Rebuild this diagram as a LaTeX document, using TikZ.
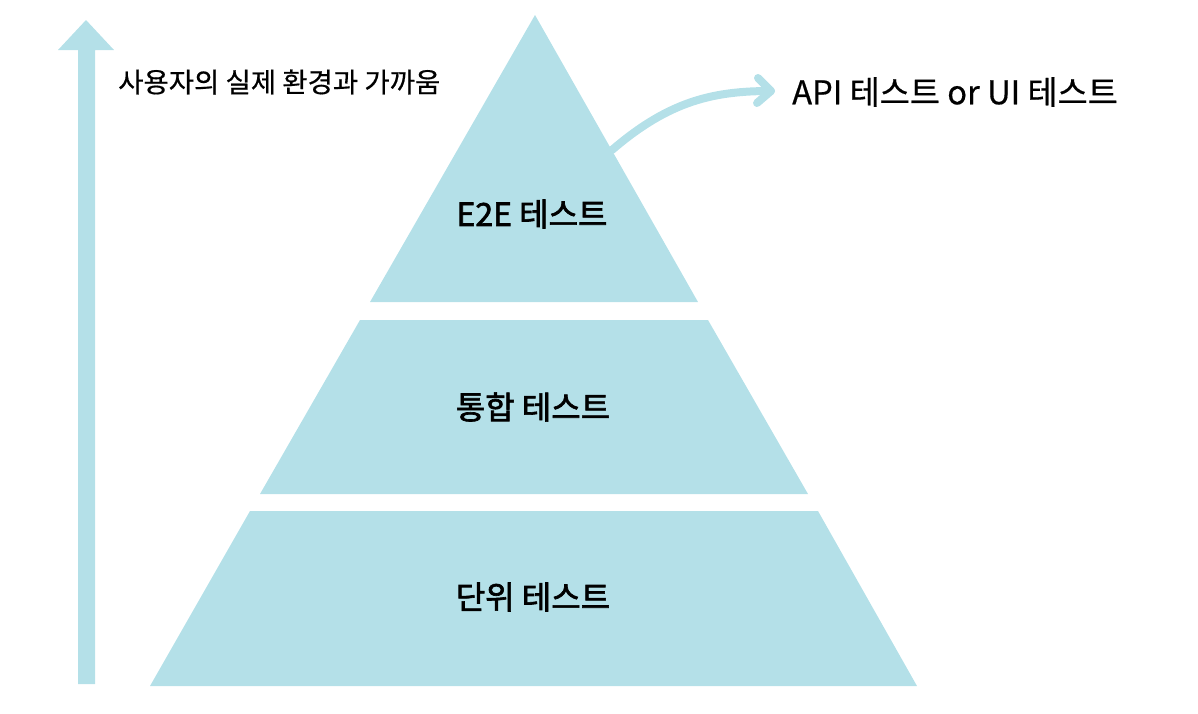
\documentclass[tikz,border=0pt]{standalone}
\usepackage{fontspec}
\newfontfamily\kr{Noto Sans CJK KR}
\newfontfamily\krsb[FakeBold=2]{Noto Sans CJK KR}
\newfontfamily\krm[FakeBold=0.5]{Noto Sans CJK KR}
\definecolor{pyr}{RGB}{180,224,232}
\begin{document}
\begin{tikzpicture}[x=1pt,y=-1pt,
  lbl/.style={font=\krsb\fontsize{32}{36}\selectfont, text=black},
  band/.style={fill=pyr, draw=none}]
\useasboundingbox (0,0) rectangle (1198,713);
% pyramid layers
\fill[pyr] (535,15) -- (698,302) -- (370,302) -- cycle;
\fill[pyr] (360,320) -- (708,320) -- (808,494) -- (260,494) -- cycle;
\fill[pyr] (250,511) -- (818,511) -- (917,686) -- (150,686) -- cycle;
\node[lbl] (e2e) at (532,214) {E2E 테스트};
\node[lbl] (int) at (533,407) {통합 테스트};
\node[lbl] (unit) at (533,597) {단위 테스트};
% left arrow
\fill[pyr] (78,684) -- (95,684) -- (95,50) -- (114,50) -- (86,20) -- (58,50) -- (78,50) -- cycle;
\node[font=\krm\fontsize{27.5}{32}\selectfont, anchor=west, inner sep=0pt] (real) at (118,82) {사용자의 실제 환경과 가까움};
% curved arrow
\coordinate (cs) at (612,150);
\coordinate (ce) at (771,91);
\draw[pyr, line width=8pt, line cap=round, line join=round] (cs) .. controls (670,100) and (715,91) .. (ce);
\draw[pyr, line width=8pt, line cap=round, line join=round] (758,78) -- (ce) -- (757,103);
\node[font=\krm\fontsize{32.7}{36}\selectfont, anchor=west, inner sep=0pt] (api) at (792,92) {API 테스트 or UI 테스트};
\end{tikzpicture}
\end{document}
